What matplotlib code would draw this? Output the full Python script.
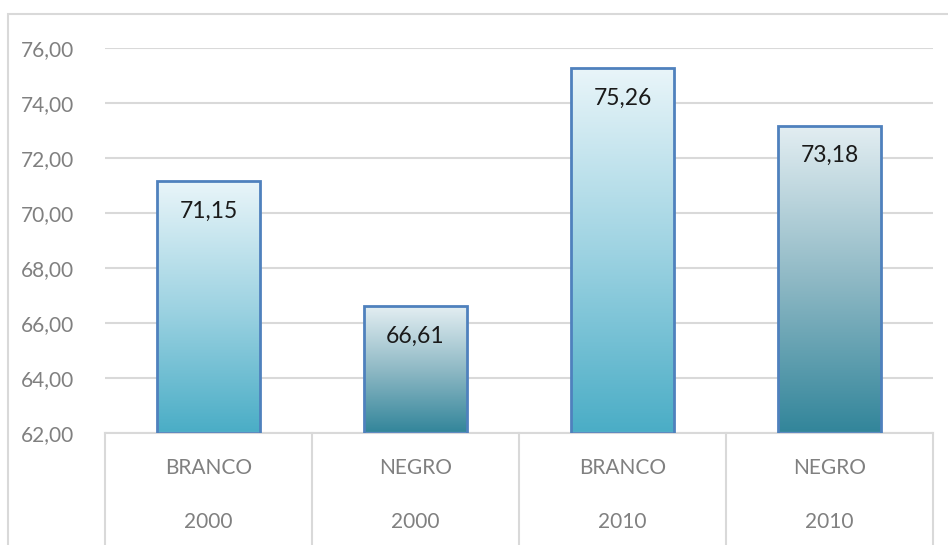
import numpy as np
import matplotlib.pyplot as plt
from matplotlib.colors import LinearSegmentedColormap
from matplotlib.patches import Rectangle

groups = ["BRANCO", "NEGRO", "BRANCO", "NEGRO"]
years = ["2000", "2000", "2010", "2010"]
values = [71.15, 66.61, 75.26, 73.18]
yticks = [62, 64, 66, 68, 70, 72, 74, 76]

grad = {
    "BRANCO": LinearSegmentedColormap.from_list("b", ["#4aadc6", "#9ed3e2", "#e9f5f9"]),
    "NEGRO": LinearSegmentedColormap.from_list("n", ["#32859a", "#8fb9c5", "#e3eef2"]),
}

plt.rcParams['font.family'] = ['Lato', 'DejaVu Sans']

fig = plt.figure(figsize=(9.48, 5.45), dpi=100)
ax = fig.add_axes([105 / 948, 1 - 433 / 545, 828 / 948, 385 / 545])

# chart frame
fig.patches.append(Rectangle((8 / 948, -0.1), 1.2, 1 - 14 / 545 + 0.1, transform=fig.transFigure,
                             fill=False, edgecolor="#d9d9d9", linewidth=1.5))

ymin, ymax = 62, 76
ax.set_ylim(ymin, ymax)
ax.set_xlim(-0.5, len(values) - 0.5)
ax.set_yticks(yticks)
ax.set_yticklabels([f"{t:.2f}".replace(".", ",") for t in yticks], color="#808080", fontsize=15)
ax.tick_params(axis="y", length=0, pad=22)
ax.set_xticks([])
ax.grid(axis="y", color="#d9d9d9", linewidth=1.5)
ax.set_axisbelow(True)
for s in ["top", "right", "left"]:
    ax.spines[s].set_visible(False)
ax.spines["bottom"].set_color("#d9d9d9")
ax.spines["bottom"].set_linewidth(1.5)

width = 0.5
gy = np.linspace(0, 1, 256).reshape(-1, 1)
for i, (g, v) in enumerate(zip(groups, values)):
    x0 = i - width / 2
    rect = Rectangle((x0, ymin), width, v - ymin, facecolor="none",
                     edgecolor="#4f81bd", linewidth=2, zorder=3)
    ax.add_patch(rect)
    im = ax.imshow(gy, cmap=grad[g], origin="lower", aspect="auto",
                   extent=(x0, x0 + width, ymin, v), zorder=2)
    im.set_clip_path(rect)
    ax.text(i, v - 1.1, f"{v:.2f}".replace(".", ","), ha="center", va="center",
            fontsize=16.5, color="#1a1a1a", zorder=4)

# category table below the axis
for b in np.arange(-0.5, len(values), 1.0):
    ax.plot([b, b], [0, -0.3], transform=ax.get_xaxis_transform(), color="#d9d9d9",
            linewidth=1.5, clip_on=False)
for i, (g, yr) in enumerate(zip(groups, years)):
    ax.text(i, -0.092, g, transform=ax.get_xaxis_transform(), ha="center", va="center",
            fontsize=15, color="#808080")
    ax.text(i, -0.23, yr, transform=ax.get_xaxis_transform(), ha="center", va="center",
            fontsize=15, color="#808080")

fig.savefig("out.png", dpi=100)
